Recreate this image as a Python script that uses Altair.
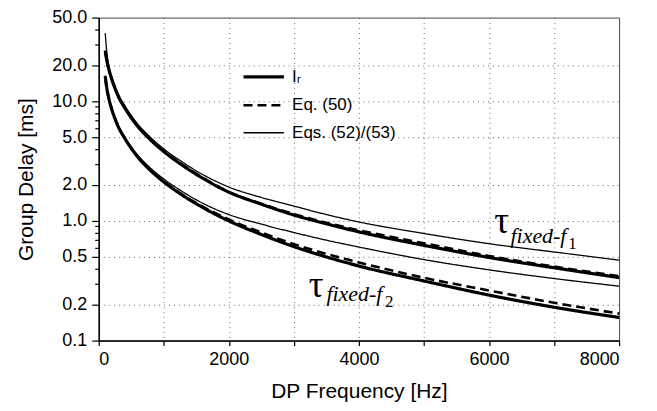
import altair as alt
import pandas as pd

# ---- data (DP frequency in Hz, group delay in ms) ----
FREQ = [100, 125, 150, 200, 250, 300, 400, 500, 600, 750, 1000, 1250, 1500,
        2000, 2500, 3000, 3500, 4000, 5000, 6000, 7000, 8000]

# tau fixed-f1
F1_IR = [26.5, 21.8, 19.0, 15.3, 12.8, 11.0, 8.8, 7.27, 6.16, 5.03, 3.8, 3.01, 2.45,
         1.74, 1.38, 1.12, 0.945, 0.81, 0.625, 0.495, 0.406, 0.336]
F1_EQ50 = [26.3, 21.7, 19.0, 15.4, 12.9, 11.1, 8.9, 7.35, 6.22, 5.08, 3.84, 3.05, 2.48,
           1.75, 1.39, 1.14, 0.965, 0.835, 0.65, 0.51, 0.415, 0.345]
F1_EQ52 = [37.0, 25.5, 20.5, 16.0, 13.4, 11.5, 9.2, 7.6, 6.45, 5.28, 4.0, 3.2, 2.62,
           1.92, 1.57, 1.33, 1.13, 0.98, 0.785, 0.645, 0.55, 0.47]
# tau fixed-f2
F2_IR = [16.2, 12.8, 10.9, 8.58, 7.16, 6.13, 4.9, 4.04, 3.42, 2.79, 2.12, 1.69, 1.39,
         1.0, 0.77, 0.61, 0.5, 0.42, 0.315, 0.24, 0.19, 0.156]
F2_EQ50 = [16.1, 12.8, 10.9, 8.6, 7.18, 6.15, 4.92, 4.06, 3.44, 2.81, 2.14, 1.71, 1.41,
           1.03, 0.8, 0.64, 0.53, 0.45, 0.335, 0.262, 0.207, 0.168]
F2_EQ52 = [16.4, 13.0, 11.0, 8.7, 7.3, 6.25, 5.02, 4.16, 3.55, 2.92, 2.24, 1.81, 1.5,
           1.13, 0.94, 0.8, 0.69, 0.605, 0.475, 0.39, 0.33, 0.285]

METHODS = ["Iᵣ", "Eq. (50)", "Eqs. (52)/(53)"]
X_TICKS = [0, 1000, 2000, 3000, 4000, 5000, 6000, 7000, 8000]
Y_MAJOR = [0.1, 0.2, 0.5, 1, 2, 5, 10, 20, 50]
Y_MINOR = [0.3, 0.4, 0.6, 0.7, 0.8, 0.9, 3, 4, 6, 7, 8, 9, 30, 40]

series = [
    ("f1", METHODS[0], F1_IR), ("f2", METHODS[0], F2_IR),
    ("f1", METHODS[1], F1_EQ50), ("f2", METHODS[1], F2_EQ50),
    ("f1", METHODS[2], F1_EQ52), ("f2", METHODS[2], F2_EQ52),
]
rows = []
for grp, meth, vals in series:
    for f, v in zip(FREQ, vals):
        rows.append({"freq": f, "delay": v, "group": grp, "method": meth, "key": grp + meth})
df = pd.DataFrame(rows)

W, H = 522, 324

x_enc = alt.X(
    "freq:Q",
    scale=alt.Scale(domain=[0, 8000], nice=False, zero=False),
    axis=alt.Axis(
        values=X_TICKS, format="d", title="DP Frequency [Hz]",
        labelExpr="datum.value % 2000 == 0 ? datum.label : ''",
        gridOpacity={"condition": {"test": "datum.value > 0 && datum.value < 8000", "value": 1}, "value": 0},
        tickSize=5, labelPadding=5, titlePadding=12,
    ),
)
major_str = "[" + ",".join(str(v) for v in Y_MAJOR) + "]"
inner_str = "[" + ",".join(str(v) for v in Y_MAJOR[1:-1]) + "]"
y_enc = alt.Y(
    "delay:Q",
    scale=alt.Scale(type="log", domain=[0.1, 50], nice=False),
    axis=alt.Axis(
        values=Y_MAJOR + Y_MINOR, format=".1f", title="Group Delay [ms]",
        labelExpr="indexof(" + major_str + ", datum.value) >= 0 ? datum.label : ''",
        tickSize={"condition": {"test": "indexof(" + major_str + ", datum.value) >= 0", "value": 7}, "value": 4},
        gridOpacity={"condition": {"test": "indexof(" + inner_str + ", datum.value) >= 0", "value": 1}, "value": 0},
        labelPadding=5, titlePadding=15,
    ),
)

legend = alt.Legend(
    title=None, orient="none", legendX=150, legendY=44,
    symbolType="M-1.5,0L1.5,0", symbolSize=729, symbolStrokeColor="black",
    symbolFillColor="transparent",
    labelFont="Liberation Sans", labelFontSize=17, labelColor="black",
    labelOffset=13, rowPadding=5, padding=0,
)

lines = alt.Chart(df).mark_line(color="black", interpolate="monotone").encode(
    x=x_enc,
    y=y_enc,
    detail="key:N",
    strokeDash=alt.StrokeDash(
        "method:N", legend=legend,
        scale=alt.Scale(domain=METHODS, range=[[1, 0], [9, 5], [1, 0]]),
    ),
    strokeWidth=alt.StrokeWidth(
        "method:N", legend=legend,
        scale=alt.Scale(type="ordinal", domain=METHODS, range=[3.2, 2.6, 1.3]),
    ),
    order=alt.Order("freq:Q"),
)

# annotation labels, placed in data coordinates
tau_df = pd.DataFrame({"freq": [6080, 3230], "delay": [0.785, 0.231], "t": ["τ", "τ"]})
fix_df = pd.DataFrame({"freq": [6330, 3500], "delay": [0.652, 0.214], "t": ["fixed-f", "fixed-f"]})
idx_df = pd.DataFrame({"freq": [7220, 4400], "delay": [0.578, 0.189], "t": ["1", "2"]})

def txt(d, size, style="normal"):
    return alt.Chart(d).mark_text(
        font="Liberation Serif", fontSize=size, fontStyle=style, align="left",
        baseline="alphabetic", color="black",
    ).encode(x="freq:Q", y="delay:Q", text="t:N")

chart = alt.layer(
    lines, txt(tau_df, 37), txt(fix_df, 22, "italic"), txt(idx_df, 17)
).properties(
    width=W, height=H,
    autosize=alt.AutoSizeParams(type="none"),
    padding={"left": 91, "top": 9, "right": 30, "bottom": 66},
).configure_view(
    stroke="#444", strokeWidth=1, fill="white",
).configure_axis(
    domainColor="black", domainWidth=1.5, tickColor="black", tickWidth=1.2,
    labelColor="black", labelFont="Liberation Sans", labelFontSize=18,
    titleFont="Liberation Sans", titleFontSize=21, titleFontWeight="normal",
    titleColor="black", gridColor="#666", gridDash=[1, 4], gridWidth=1,
)

chart.save("out.html", embed_options={"renderer": "svg", "actions": False})
